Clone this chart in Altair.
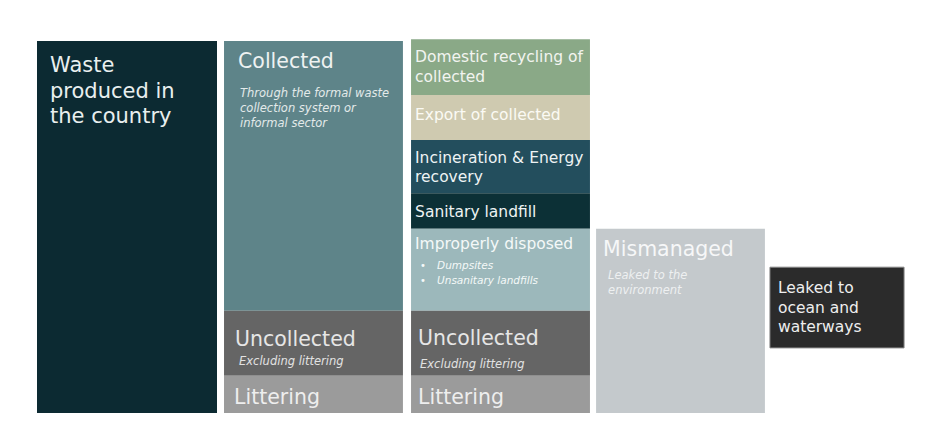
import altair as alt
import pandas as pd

# ---- data: blocks of the waste-flow diagram (y in % of waste produced) ----
box_names = ["produced", "collected", "uncollected_c2", "littering_c2",
             "recycling", "export", "incineration", "sanitary", "improper",
             "uncollected_c3", "littering_c3", "mismanaged", "leaked"]
box_column = [1, 2, 2, 2, 3, 3, 3, 3, 3, 3, 3, 4, 5]
box_bottom = [0, 27.5, 10, 0, 85.5, 73.4, 59.1, 49.5, 27.5, 10, 0, 0, 17.5]
box_top = [100, 100, 27.5, 10, 100.5, 85.5, 73.4, 59.1, 49.5, 27.5, 10, 49.5, 39.2]
box_colors = ["#0c2a32", "#5e8489", "#656565", "#9b9b9b",
              "#8aa987", "#cfcab0", "#234e5d", "#0c3036", "#9cb8bb",
              "#656565", "#9b9b9b", "#c4c9cc", "#2b2b2b"]

# column extents (1 unit = width of the first column)
column_ids = [1, 2, 3, 4, 5]
column_left = [0.0, 1.039, 2.078, 3.106, 4.072]
column_right = [1.0, 2.033, 3.072, 4.044, 4.817]

# ---- labels ----
label_box = ["produced", "collected", "collected",
             "recycling", "export", "incineration", "sanitary",
             "improper", "improper", "improper",
             "uncollected_c3", "uncollected_c3", "littering_c3",
             "uncollected_c2", "uncollected_c2", "littering_c2",
             "mismanaged", "mismanaged", "leaked"]
label_text = ["Waste\nproduced in\nthe country",
              "Collected",
              "Through the formal waste\ncollection system or\ninformal sector",
              "Domestic recycling of\ncollected",
              "Export of collected",
              "Incineration & Energy\nrecovery",
              "Sanitary landfill",
              "Improperly disposed",
              "•\n•",
              "Dumpsites\nUnsanitary landfills",
              "Uncollected",
              "Excluding littering",
              "Littering",
              "Uncollected",
              "Excluding littering",
              "Littering",
              "Mismanaged",
              "Leaked to the\nenvironment",
              "Leaked to\nocean and\nwaterways"]

# styles for each label: dx, dy, fontSize, italic, lineHeight, color
label_style = [
    (13, 31, 21, False, 25.5, "#e9efef"),
    (14, 27, 20.5, False, 25, "#eef2f2"),
    (16, 56, 11.5, True, 15, "#e3eaea"),
    (4, 23, 15.5, False, 20, "#f2f4f0"),
    (4, 25, 15.5, False, 20, "#fbfaf4"),
    (4, 23, 15.5, False, 19, "#eef3f4"),
    (4, 24, 15.5, False, 19, "#eef3f3"),
    (4, 20, 15.5, False, 19, "#f4f8f8"),
    (9, 40, 10, False, 15, "#f4f8f8"),
    (26, 40, 10.5, True, 15, "#f4f8f8"),
    (7, 34, 20.5, False, 25, "#e6e6e6"),
    (9, 57, 11.5, True, 15, "#e2e2e2"),
    (7, 28, 20.5, False, 25, "#eeeeee"),
    (11, 35, 20.5, False, 25, "#e6e6e6"),
    (15, 54, 11.5, True, 15, "#e2e2e2"),
    (10, 28, 20.5, False, 25, "#eeeeee"),
    (7, 27, 20.5, False, 25, "#f6f7f8"),
    (12, 50, 11.5, True, 15, "#eef0f1"),
    (8, 26, 15.5, False, 19.5, "#eeeeee"),
]

FONT = "DejaVu Sans"
W, H = 910, 422

cols = pd.DataFrame({"column": column_ids, "left": column_left, "right": column_right})
boxes = pd.DataFrame({"box": box_names, "column": box_column,
                      "bottom": box_bottom, "top": box_top, "color": box_colors})
boxes = boxes.merge(cols, on="column")

xs = alt.Scale(domain=[-29 / 180, 881 / 180], nice=False, zero=False)
ys = alt.Scale(domain=[(413 - 8 - H) / 3.72, (413 - 8) / 3.72], nice=False, zero=False)

rects = alt.Chart(boxes).mark_rect().encode(
    x=alt.X("left:Q", scale=xs, axis=None),
    x2="right:Q",
    y=alt.Y("bottom:Q", scale=ys, axis=None),
    y2="top:Q",
    color=alt.Color("color:N", scale=None),
    stroke=alt.condition(alt.datum.box == "leaked", alt.value("#858585"), alt.value(None)),
    strokeWidth=alt.value(1),
)

layers = [rects]
for b, t, st in zip(label_box, label_text, label_style):
    dx, dy, fs, it, lh, colr = st
    row = boxes[boxes["box"] == b].iloc[0]
    df = pd.DataFrame({"left": [row["left"]], "top": [row["top"]], "text": [t]})
    kw = dict(align="left", baseline="alphabetic", dx=dx, dy=dy, fontSize=fs,
              font=FONT, lineBreak="\n", lineHeight=lh, color=colr)
    if it:
        kw["fontStyle"] = "italic"
    layers.append(
        alt.Chart(df).mark_text(**kw).encode(
            x=alt.X("left:Q", scale=xs, axis=None),
            y=alt.Y("top:Q", scale=ys, axis=None),
            text="text:N",
        )
    )

chart = alt.layer(*layers).properties(
    width=W, height=H, padding=0, background="#ffffff"
).configure_view(strokeWidth=0)

chart.save("out.html", embed_options={"renderer": "svg", "actions": False})
